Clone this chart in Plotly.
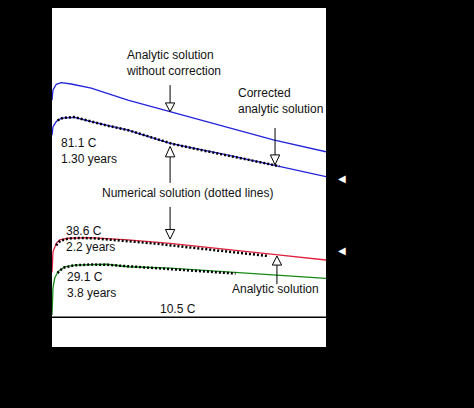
import plotly.graph_objects as go

# distance along section (arbitrary units) and temperatures (C)
x_analytic = [0.0, 0.036, 0.157, 0.34, 0.70, 1.43, 2.77, 4.31, 6.38, 8.08, 10.0]
blue_uncorrected = [87.4, 91.0, 93.0, 93.6, 93.1, 91.6, 87.4, 83.3, 77.6, 73.3, 69.1]

x_blue = [0.0, 0.036, 0.157, 0.34, 0.83, 1.43, 2.77, 4.31, 6.38, 8.08, 10.0]
blue_corrected = [75.0, 78.0, 79.8, 81.0, 81.3, 79.8, 76.8, 72.1, 68.0, 64.4, 60.3]

x_red = [0.0, 0.036, 0.157, 0.28, 0.58, 1.07, 1.39, 2.77, 4.31, 8.08, 10.0]
red_analytic = [26.5, 33.7, 36.7, 37.9, 38.5, 38.7, 38.7, 37.9, 36.7, 32.8, 30.8]

x_green = [0.0, 0.036, 0.10, 0.22, 0.46, 0.83, 2.0, 2.77, 4.31, 8.08, 10.0]
green_analytic = [11.3, 20.9, 24.4, 26.7, 28.4, 29.0, 29.3, 28.4, 27.9, 25.5, 24.3]

# numerical solutions (dotted)
x_num_blue = [0.2, 0.4, 0.8, 1.4, 2.0, 2.8, 3.6, 4.4, 5.2, 6.0, 6.8, 7.6, 8.3]
num_blue = [80.2, 81.1, 81.4, 79.9, 78.4, 76.7, 74.4, 71.9, 70.2, 68.7, 67.0, 65.4, 64.0]

x_num_red = [0.15, 0.3, 0.6, 1.0, 1.5, 2.2, 3.0, 3.8, 4.6, 5.4, 6.2, 7.0, 7.9]
num_red = [36.0, 37.6, 38.4, 38.6, 38.5, 38.0, 37.3, 36.6, 35.7, 34.8, 33.9, 33.0, 32.2]

x_num_green = [0.2, 0.4, 0.8, 1.4, 2.0, 2.8, 3.6, 4.4, 5.2, 6.0, 6.7]
num_green = [26.2, 28.0, 28.9, 29.2, 29.1, 28.6, 28.1, 27.6, 27.0, 26.5, 26.0]

ambient = 10.5

fig = go.Figure()
fig.add_trace(go.Scatter(x=x_analytic, y=blue_uncorrected, mode='lines',
                         line=dict(color='#2323d8', width=1.3)))
fig.add_trace(go.Scatter(x=x_blue, y=blue_corrected, mode='lines',
                         line=dict(color='#2323d8', width=1.3)))
fig.add_trace(go.Scatter(x=x_red, y=red_analytic, mode='lines',
                         line=dict(color='#e0203c', width=1.3)))
fig.add_trace(go.Scatter(x=x_green, y=green_analytic, mode='lines',
                         line=dict(color='#168a16', width=1.3)))
for xs, ys in [(x_num_blue, num_blue), (x_num_red, num_red), (x_num_green, num_green)]:
    fig.add_trace(go.Scatter(x=xs, y=ys, mode='lines',
                             line=dict(color='black', width=2.5, dash='2px,2px')))

fig.add_shape(type='line', xref='paper', x0=0, x1=1, y0=ambient, y1=ambient,
              line=dict(color='black', width=1.5))


# vertical arrow with hollow triangle head
def arrow(x, y_tail, y_base, y_tip, hw=0.17):
    fig.add_shape(type='line', x0=x, x1=x, y0=y_tail, y1=y_base,
                  line=dict(color='black', width=1))
    fig.add_shape(type='path',
                  path=f'M {x - hw},{y_base} L {x + hw},{y_base} L {x},{y_tip} Z',
                  fillcolor='white', line=dict(color='black', width=1))


arrow(4.31, 92.7, 86.4, 83.3)
arrow(8.14, 77.5, 68.0, 64.5)
arrow(4.31, 58.1, 67.3, 71.0)
arrow(4.31, 49.6, 41.6, 38.2)
arrow(8.21, 22.3, 29.0, 32.2)

labels = [
    (2.64, 100.5, 'Analytic solution<br>without correction', 'left'),
    (6.71, 87.1, 'Corrected<br>analytic solution', 'left'),
    (0.25, 69.4, '81.1 C<br>1.30 years', 'left'),
    (4.96, 54.5, 'Numerical solution (dotted lines)', 'center'),
    (0.44, 38.4, '38.6 C<br>2.2 years', 'left'),
    (0.46, 22.1, '29.1 C<br>3.8 years', 'left'),
    (4.6, 13.6, '10.5 C', 'center'),
    (6.49, 20.7, 'Analytic solution', 'left'),
]
for lx, ly, txt, anchor in labels:
    fig.add_annotation(x=lx, y=ly, text=txt, showarrow=False, xanchor=anchor,
                       yanchor='middle', align='left',
                       font=dict(family='Liberation Sans, Arial', size=12, color='#111'))

# small white markers outside the frame at the curve ends
for py in [0.4985, 0.2596]:
    fig.add_annotation(xref='paper', yref='paper', x=1.082, y=py, text='◀',
                       showarrow=False, font=dict(size=10, color='white'))

fig.update_layout(
    width=474, height=408,
    margin=dict(l=52, r=148, t=8, b=61),
    paper_bgcolor='black', plot_bgcolor='white',
    showlegend=False,
    xaxis=dict(range=[0, 10], showgrid=False, zeroline=False, showticklabels=False),
    yaxis=dict(range=[0, 120], showgrid=False, zeroline=False, showticklabels=False),
)

fig.write_html('out.html', config={'displayModeBar': False},
               post_script="document.body.style.margin='0';document.body.style.overflow='hidden';")
